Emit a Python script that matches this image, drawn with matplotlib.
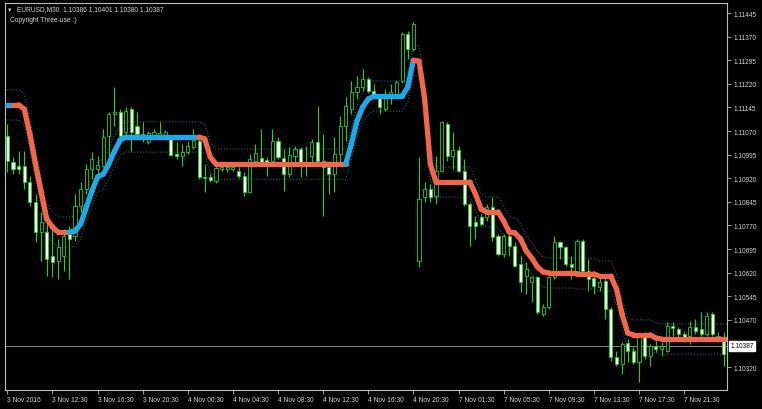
import numpy as np
import matplotlib
matplotlib.use("Agg")
import matplotlib.pyplot as plt
from matplotlib.patches import Rectangle
from matplotlib.collections import LineCollection
import matplotlib.transforms as mtransforms

plt.rcParams['font.family'] = ['Liberation Sans', 'DejaVu Sans']

# ---------------- data (EURUSD, M30) ----------------
opens = [1.11054, 1.10971, 1.10959, 1.10959, 1.10908, 1.10844, 1.10749, 1.10749, 1.10673, 1.10657,
         1.10673, 1.10743, 1.10736, 1.10832, 1.10886, 1.10949, 1.10949, 1.10959, 1.11054, 1.11124,
         1.11130, 1.11067, 1.11140, 1.11086, 1.11060, 1.11035, 1.11057, 1.11054, 1.11057, 1.11048,
         1.10997, 1.10991, 1.11003, 1.11019, 1.11038, 1.10924, 1.10924, 1.10911, 1.10949, 1.10949,
         1.10949, 1.10943, 1.10927, 1.10876, 1.10975, 1.10984, 1.10978, 1.10975, 1.11038, 1.10984,
         1.10933, 1.10991, 1.11013, 1.10971, 1.10991, 1.11035, 1.10975, 1.10956, 1.10933, 1.10997,
         1.11086, 1.11140, 1.11194, 1.11210, 1.11235, 1.11197, 1.11181, 1.11140, 1.11181, 1.11188,
         1.11229, 1.11378, 1.11331, 1.10657, 1.10860, 1.10886, 1.10863, 1.10943, 1.11092, 1.10991,
         1.11010, 1.10943, 1.10838, 1.10781, 1.10797, 1.10797, 1.10828, 1.10736, 1.10679, 1.10736,
         1.10705, 1.10647, 1.10609, 1.10590, 1.10606, 1.10488, 1.10511, 1.10606, 1.10717, 1.10701,
         1.10647, 1.10625, 1.10720, 1.10625, 1.10603, 1.10574, 1.10593, 1.10504, 1.10352, 1.10329,
         1.10396, 1.10371, 1.10336, 1.10415, 1.10355, 1.10387, 1.10377, 1.10371, 1.10450, 1.10441,
         1.10425, 1.10418, 1.10447, 1.10441, 1.10425, 1.10488, 1.10409, 1.10415, 1.10386]
highs = [1.11092, 1.10987, 1.11006, 1.11006, 1.10927, 1.10870, 1.10813, 1.10781, 1.10768, 1.10727,
         1.10759, 1.10768, 1.10870, 1.10908, 1.10965, 1.11003, 1.10991, 1.11076, 1.11130, 1.11210,
         1.11140, 1.11146, 1.11146, 1.11130, 1.11099, 1.11070, 1.11076, 1.11099, 1.11073, 1.11054,
         1.11035, 1.11029, 1.11038, 1.11076, 1.11051, 1.10965, 1.10933, 1.10959, 1.10965, 1.10962,
         1.10962, 1.10956, 1.10940, 1.10997, 1.11029, 1.11076, 1.10987, 1.11076, 1.11051, 1.11013,
         1.11019, 1.11022, 1.11019, 1.11022, 1.11045, 1.11149, 1.11060, 1.10975, 1.11051, 1.11118,
         1.11178, 1.11229, 1.11245, 1.11267, 1.11242, 1.11219, 1.11188, 1.11203, 1.11219, 1.11232,
         1.11385, 1.11388, 1.11416, 1.10987, 1.10908, 1.10902, 1.10991, 1.11102, 1.11099, 1.11067,
         1.11022, 1.10981, 1.10844, 1.10800, 1.10806, 1.10838, 1.10860, 1.10743, 1.10743, 1.10749,
         1.10717, 1.10673, 1.10654, 1.10609, 1.10609, 1.10520, 1.10609, 1.10736, 1.10720, 1.10705,
         1.10673, 1.10727, 1.10727, 1.10663, 1.10609, 1.10606, 1.10616, 1.10511, 1.10371, 1.10399,
         1.10409, 1.10383, 1.10425, 1.10431, 1.10393, 1.10403, 1.10399, 1.10463, 1.10463, 1.10447,
         1.10434, 1.10466, 1.10472, 1.10495, 1.10495, 1.10495, 1.10431, 1.10431, 1.10401]
lows = [1.10940, 1.10933, 1.10933, 1.10886, 1.10832, 1.10717, 1.10657, 1.10609, 1.10606, 1.10600,
        1.10625, 1.10600, 1.10720, 1.10813, 1.10870, 1.10917, 1.10927, 1.10956, 1.10991, 1.11086,
        1.11045, 1.11051, 1.11006, 1.11045, 1.11035, 1.11029, 1.11045, 1.11045, 1.11045, 1.10991,
        1.10981, 1.10959, 1.10997, 1.11013, 1.10917, 1.10876, 1.10908, 1.10905, 1.10943, 1.10940,
        1.10943, 1.10921, 1.10863, 1.10873, 1.10965, 1.10959, 1.10927, 1.10971, 1.10981, 1.10879,
        1.10924, 1.10959, 1.10924, 1.10927, 1.10959, 1.10959, 1.10800, 1.10870, 1.10876, 1.10971,
        1.11038, 1.11124, 1.11172, 1.11197, 1.11191, 1.11172, 1.11124, 1.11134, 1.11156, 1.11181,
        1.11223, 1.11299, 1.11324, 1.10638, 1.10844, 1.10844, 1.10838, 1.10940, 1.10975, 1.10949,
        1.10940, 1.10832, 1.10705, 1.10727, 1.10768, 1.10784, 1.10720, 1.10673, 1.10670, 1.10673,
        1.10638, 1.10558, 1.10552, 1.10527, 1.10488, 1.10482, 1.10504, 1.10600, 1.10663, 1.10641,
        1.10600, 1.10622, 1.10622, 1.10562, 1.10552, 1.10562, 1.10472, 1.10339, 1.10323, 1.10298,
        1.10336, 1.10329, 1.10272, 1.10345, 1.10323, 1.10368, 1.10355, 1.10368, 1.10418, 1.10415,
        1.10399, 1.10393, 1.10425, 1.10418, 1.10418, 1.10418, 1.10399, 1.10323, 1.10380]
closes = [1.10975, 1.10949, 1.10949, 1.10908, 1.10844, 1.10749, 1.10781, 1.10663, 1.10654, 1.10701,
          1.10736, 1.10727, 1.10832, 1.10886, 1.10949, 1.10981, 1.10962, 1.11051, 1.11124, 1.11130,
          1.11054, 1.11134, 1.11067, 1.11060, 1.11045, 1.11064, 1.11067, 1.11064, 1.11067, 1.10994,
          1.10991, 1.11003, 1.11022, 1.11041, 1.10924, 1.10921, 1.10914, 1.10952, 1.10956, 1.10956,
          1.10956, 1.10927, 1.10876, 1.10981, 1.11000, 1.10965, 1.10971, 1.11038, 1.10987, 1.10933,
          1.10994, 1.11013, 1.10971, 1.10959, 1.11035, 1.10975, 1.10956, 1.10933, 1.10997, 1.11086,
          1.11149, 1.11194, 1.11210, 1.11235, 1.11197, 1.11188, 1.11146, 1.11181, 1.11194, 1.11226,
          1.11378, 1.11331, 1.11410, 1.10854, 1.10886, 1.10860, 1.10943, 1.11099, 1.10991, 1.11010,
          1.10943, 1.10838, 1.10768, 1.10768, 1.10774, 1.10828, 1.10733, 1.10679, 1.10736, 1.10705,
          1.10641, 1.10590, 1.10631, 1.10606, 1.10495, 1.10511, 1.10606, 1.10717, 1.10701, 1.10647,
          1.10638, 1.10720, 1.10625, 1.10600, 1.10577, 1.10590, 1.10504, 1.10352, 1.10329, 1.10393,
          1.10371, 1.10336, 1.10415, 1.10355, 1.10387, 1.10377, 1.10387, 1.10450, 1.10444, 1.10425,
          1.10409, 1.10447, 1.10434, 1.10425, 1.10482, 1.10425, 1.10418, 1.10361, 1.10387]

# trend-coloured smoothed line
ma_line = [1.11153, 1.11153, 1.11153, 1.11140, 1.11060, 1.10965, 1.10876, 1.10790, 1.10765, 1.10749,
           1.10749, 1.10749, 1.10752, 1.10774, 1.10828, 1.10879, 1.10924, 1.10933, 1.10965, 1.11006,
           1.11041, 1.11051, 1.11051, 1.11051, 1.11051, 1.11051, 1.11051, 1.11051, 1.11051, 1.11051,
           1.11051, 1.11051, 1.11051, 1.11051, 1.11051, 1.11045, 1.10987, 1.10965, 1.10965, 1.10965,
           1.10965, 1.10965, 1.10965, 1.10965, 1.10965, 1.10965, 1.10965, 1.10965, 1.10965, 1.10965,
           1.10965, 1.10965, 1.10965, 1.10965, 1.10965, 1.10965, 1.10965, 1.10965, 1.10965, 1.10965,
           1.10965, 1.11029, 1.11102, 1.11146, 1.11172, 1.11181, 1.11181, 1.11181, 1.11181, 1.11181,
           1.11181, 1.11210, 1.11295, 1.11292, 1.11172, 1.10965, 1.10908, 1.10908, 1.10908, 1.10908,
           1.10908, 1.10908, 1.10908, 1.10870, 1.10822, 1.10813, 1.10813, 1.10813, 1.10784, 1.10749,
           1.10746, 1.10727, 1.10689, 1.10666, 1.10638, 1.10622, 1.10619, 1.10619, 1.10619, 1.10619,
           1.10619, 1.10616, 1.10616, 1.10616, 1.10616, 1.10609, 1.10609, 1.10609, 1.10568, 1.10488,
           1.10428, 1.10422, 1.10422, 1.10422, 1.10422, 1.10412, 1.10409, 1.10409, 1.10409, 1.10409,
           1.10409, 1.10409, 1.10409, 1.10409, 1.10409, 1.10409, 1.10409, 1.10409, 1.10409]
# bar index where the line's colour turns
trend_turns = [(0, 'up'), (2, 'down'), (12, 'up'), (35, 'down'), (61, 'up'), (73, 'down')]
band_width = 0.00048

# 1.10395 is hidden under the current-price box in the reference
price_ticks = [1.11445, 1.11370, 1.11295, 1.11220, 1.11145, 1.11070, 1.10995, 1.10920,
               1.10845, 1.10770, 1.10695, 1.10620, 1.10545, 1.10470, 1.10320]
time_tick_bars = [0, 8, 16, 24, 32, 40, 48, 56, 64, 72, 80, 88, 96, 104, 112, 120]
time_tick_labels = ['3 Nov 2016', '3 Nov 12:30', '3 Nov 16:30', '3 Nov 20:30', '4 Nov 00:30',
                    '4 Nov 04:30', '4 Nov 08:30', '4 Nov 12:30', '4 Nov 16:30', '4 Nov 20:30',
                    '7 Nov 01:30', '7 Nov 05:30', '7 Nov 09:30', '7 Nov 13:30', '7 Nov 17:30',
                    '7 Nov 21:30']
symbol = 'EURUSD,M30'
last_price = closes[-1]

# ---------------- drawing ----------------
W, H = 762, 410
fig = plt.figure(figsize=(W / 100, H / 100), dpi=100, facecolor='black')
ax = fig.add_axes([5 / W, 1 - 391 / H, 722 / W, 387 / H])
ax.set_facecolor('black')

N = len(closes)
xs = np.arange(N)
ax.set_xlim(-0.41, 127.6)
ax.set_ylim(1.10247, 1.11477)

fg = '#d8d8d8'
green = '#22d022'

# current price line
ax.axhline(last_price, color='#8a8a8a', lw=0.7, zorder=1)

# bands
ma = np.array(ma_line)
band_col = '#2f6676'
ax.plot(xs, ma + band_width, color=band_col, lw=0.8, ls=(0, (1, 1.6)), zorder=2)
ax.plot(xs, ma - band_width, color=band_col, lw=0.8, ls=(0, (1, 1.6)), zorder=2)

# candles
w = 0.55
for i in range(N):
    o, h, l, c = opens[i], highs[i], lows[i], closes[i]
    ax.vlines(i, l, h, color=green, lw=0.8, zorder=3)
    bot = min(o, c)
    hgt = abs(c - o)
    if hgt < 0.000015:
        ax.hlines((o + c) / 2, i - w / 2, i + w / 2, color=green, lw=0.9, zorder=4)
    else:
        face = 'black' if c > o else '#f0fff0'
        ax.add_patch(Rectangle((i - w / 2, bot), w, hgt, facecolor=face,
                               edgecolor=green, lw=0.6, zorder=4))

# trend-coloured line
trend = []
for i in range(N):
    state = 'up'
    for start, st in trend_turns:
        if i >= start:
            state = st
    trend.append(state)
blue, red = '#1ea8e8', '#f2664c'
segs = [[(i - 1, ma[i - 1]), (i, ma[i])] for i in range(1, N)]
cols = [blue if trend[i] == 'up' else red for i in range(1, N)]
lc = LineCollection(segs, colors=cols, linewidths=3.8, capstyle='round',
                    joinstyle='round', zorder=5)
ax.add_collection(lc)

# axes styling
for sp in ax.spines.values():
    sp.set_color('#bcbcbc')
    sp.set_linewidth(0.8)
ax.yaxis.tick_right()
ax.set_yticks(price_ticks)
ax.set_yticklabels([f'{v:.5f}' for v in price_ticks])
ax.set_xticks(time_tick_bars)
ax.set_xticklabels(time_tick_labels)
ax.tick_params(axis='y', colors='#bcbcbc', labelcolor=fg, labelsize=4.7,
               length=3, width=0.6, pad=1.5, direction='out')
ax.tick_params(axis='x', colors='#bcbcbc', labelcolor=fg, labelsize=4.8,
               length=3, width=0.6, pad=1.0, direction='out')
for lab in ax.get_xticklabels():
    lab.set_ha('left')

# current price label box
trans = mtransforms.blended_transform_factory(ax.transAxes, ax.transData)
ax.annotate(f'{last_price:.5f}', xy=(1.0, last_price), xycoords=trans,
            xytext=(2.5, 0), textcoords='offset points', ha='left', va='center',
            fontsize=4.7, color='black', annotation_clip=False,
            bbox=dict(boxstyle='square,pad=0.2', fc='white', ec='white'))

# header texts
fig.text(7 / W, 1 - 10 / H, '\u25bc', fontsize=4, color=fg, va='center', ha='left')
fig.text(17 / W, 1 - 10 / H,
         f'{symbol}  {opens[-1]:.5f} {highs[-1]:.5f} {lows[-1]:.5f} {closes[-1]:.5f}',
         fontsize=4.8, color=fg, va='center', ha='left')
fig.text(10 / W, 1 - 20 / H, 'Copyright Three-use :)', fontsize=4.8, color=fg,
         va='center', ha='left')

fig.savefig('out.png', dpi=100, facecolor='black')
